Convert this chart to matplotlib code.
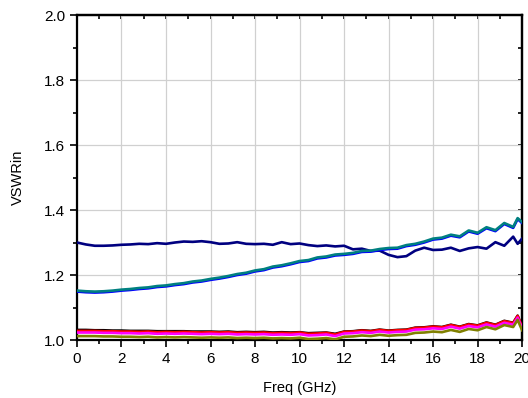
import numpy as np
import matplotlib
matplotlib.use("Agg")
import matplotlib.pyplot as plt
from matplotlib.ticker import MultipleLocator

plt.rcParams["font.family"] = ["Liberation Sans", "DejaVu Sans"]

# frequency samples (GHz): 0.4 GHz steps, plus the last ripple peak
freq = np.r_[np.arange(0, 19.7, 0.4), 19.8, 20.0]

vswr_navy = [
    1.300, 1.294, 1.290, 1.290, 1.291, 1.293, 1.294, 1.296, 1.295, 1.298,
    1.296, 1.300, 1.303, 1.302, 1.304, 1.301, 1.296, 1.297, 1.301, 1.296,
    1.295, 1.296, 1.293, 1.301, 1.295, 1.297, 1.292, 1.289, 1.291, 1.288,
    1.290, 1.279, 1.281, 1.274, 1.275, 1.262, 1.255, 1.258, 1.275, 1.284,
    1.277, 1.278, 1.284, 1.274, 1.282, 1.286, 1.281, 1.301, 1.290, 1.318,
    1.296, 1.312,
]
vswr_blue = [
    1.149, 1.147, 1.146, 1.147, 1.149, 1.152, 1.154, 1.157, 1.159, 1.163,
    1.165, 1.169, 1.172, 1.177, 1.180, 1.185, 1.189, 1.194, 1.200, 1.204,
    1.211, 1.215, 1.223, 1.227, 1.233, 1.240, 1.243, 1.251, 1.254, 1.260,
    1.262, 1.265, 1.271, 1.272, 1.277, 1.280, 1.281, 1.289, 1.293, 1.300,
    1.309, 1.312, 1.321, 1.316, 1.334, 1.327, 1.344, 1.335, 1.357, 1.345,
    1.372, 1.360,
]
vswr_teal = [
    1.152, 1.150, 1.149, 1.150, 1.152, 1.155, 1.157, 1.160, 1.162, 1.166,
    1.168, 1.172, 1.175, 1.180, 1.183, 1.188, 1.192, 1.197, 1.203, 1.207,
    1.214, 1.218, 1.226, 1.230, 1.236, 1.243, 1.246, 1.254, 1.257, 1.263,
    1.265, 1.268, 1.274, 1.275, 1.280, 1.283, 1.284, 1.292, 1.296, 1.303,
    1.312, 1.315, 1.324, 1.319, 1.337, 1.330, 1.347, 1.338, 1.360, 1.348,
    1.375, 1.363,
]
vswr_black = [
    1.031, 1.031, 1.030, 1.030, 1.029, 1.029, 1.028, 1.028, 1.028, 1.027,
    1.027, 1.027, 1.027, 1.026, 1.026, 1.026, 1.025, 1.026, 1.024, 1.025,
    1.024, 1.025, 1.023, 1.024, 1.023, 1.024, 1.021, 1.022, 1.023, 1.019,
    1.026, 1.027, 1.030, 1.028, 1.032, 1.029, 1.031, 1.032, 1.038, 1.039,
    1.042, 1.040, 1.047, 1.041, 1.049, 1.045, 1.054, 1.047, 1.059, 1.053,
    1.075, 1.041,
]
vswr_red = [
    1.028, 1.028, 1.028, 1.027, 1.027, 1.026, 1.026, 1.025, 1.026, 1.024,
    1.025, 1.024, 1.025, 1.024, 1.023, 1.024, 1.023, 1.024, 1.022, 1.023,
    1.022, 1.023, 1.021, 1.022, 1.021, 1.023, 1.019, 1.020, 1.022, 1.017,
    1.025, 1.026, 1.029, 1.027, 1.031, 1.028, 1.030, 1.031, 1.037, 1.038,
    1.041, 1.039, 1.046, 1.040, 1.048, 1.044, 1.053, 1.046, 1.058, 1.052,
    1.074, 1.040,
]
vswr_magenta = [
    1.023, 1.023, 1.023, 1.022, 1.022, 1.021, 1.021, 1.020, 1.021, 1.019,
    1.020, 1.019, 1.020, 1.019, 1.018, 1.019, 1.018, 1.019, 1.017, 1.018,
    1.017, 1.018, 1.016, 1.017, 1.016, 1.018, 1.014, 1.015, 1.017, 1.012,
    1.020, 1.021, 1.024, 1.022, 1.026, 1.023, 1.025, 1.026, 1.032, 1.033,
    1.036, 1.034, 1.041, 1.035, 1.043, 1.039, 1.048, 1.041, 1.053, 1.047,
    1.069, 1.036,
]
vswr_olive = [
    1.012, 1.012, 1.012, 1.011, 1.011, 1.010, 1.010, 1.009, 1.010, 1.008,
    1.009, 1.008, 1.009, 1.008, 1.007, 1.008, 1.007, 1.008, 1.006, 1.007,
    1.006, 1.007, 1.005, 1.006, 1.005, 1.007, 1.003, 1.004, 1.006, 1.002,
    1.010, 1.011, 1.014, 1.012, 1.016, 1.013, 1.015, 1.016, 1.022, 1.023,
    1.026, 1.024, 1.031, 1.025, 1.034, 1.030, 1.040, 1.033, 1.046, 1.040,
    1.062, 1.030,
]

series = [
    (vswr_navy, "#000080"),
    (vswr_blue, "#0000ff"),
    (vswr_teal, "#008080"),
    (vswr_black, "#000000"),
    (vswr_red, "#ff0000"),
    (vswr_magenta, "#ff00ff"),
    (vswr_olive, "#808000"),
]

fig = plt.figure(figsize=(5.28, 3.98), dpi=100)
ax = fig.add_axes([0.1458, 0.1457, 0.8430, 0.8166])

for vals, color in series:
    ax.plot(freq, vals, color=color, lw=1.9, solid_joinstyle="round", zorder=3)

ax.set_xlim(0, 20)
ax.set_ylim(1.0, 2.0)
ax.xaxis.set_major_locator(MultipleLocator(2))
ax.xaxis.set_minor_locator(MultipleLocator(1))
ax.yaxis.set_major_locator(MultipleLocator(0.2))
ax.yaxis.set_minor_locator(MultipleLocator(0.1))
ax.yaxis.set_major_formatter(plt.FormatStrFormatter("%.1f"))

ax.grid(True, which="major", color="#d0d0d0", lw=0.9, zorder=0)
ax.set_axisbelow(True)

ax.tick_params(which="both", direction="out", top=False, right=False,
               labelsize=11, width=1.2, colors="black")
ax.tick_params(which="major", length=5)
ax.tick_params(which="minor", length=3)

# inward ticks on top and right, no labels
sec_x = ax.secondary_xaxis("top")
sec_x.xaxis.set_major_locator(MultipleLocator(1))
sec_x.tick_params(direction="in", length=3, width=1.2, labeltop=False)
sec_y = ax.secondary_yaxis("right")
sec_y.yaxis.set_major_locator(MultipleLocator(0.1))
sec_y.tick_params(direction="in", length=3, width=1.2, labelright=False)
for s in list(ax.spines.values()) + [sec_x.spines["top"], sec_y.spines["right"]]:
    s.set_linewidth(1.6)

ax.set_xlabel("Freq (GHz)", fontsize=10.5, labelpad=11)
ax.set_ylabel("VSWRin", fontsize=10.5, labelpad=14)

fig.savefig("out.png", dpi=100)
